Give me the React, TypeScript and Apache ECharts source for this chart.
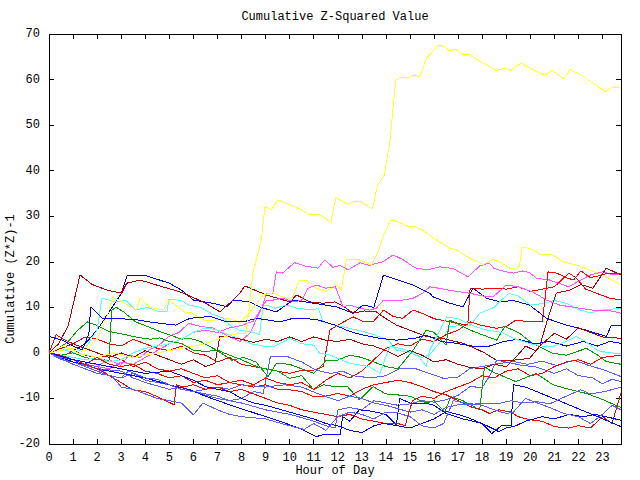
import React, { useEffect, useRef } from "react";
import * as echarts from "echarts";

const TITLE = "Cumulative Z-Squared Value";
const X_NAME = "Hour of Day";
const Y_NAME = "Cumulative (Z*Z)-1";
const X_MIN = 0;
const X_MAX = 23.77;
const Y_MIN = -20;
const Y_MAX = 70;

type Pt = [number, number];

const yellowBig: Pt[] = [[0,0],[0.6,1.5],[1.2,0],[2,-1],[2.7,0],[3.5,-1],[4.5,0],[5.5,1],[6.5,2],[7.1,3.2],[7.6,4],[8.2,4.4],[8.47,17.5],[8.83,25],[8.97,32.1],[9.25,31.4],[9.5,33.6],[10.42,31.6],[10.84,30.3],[11.25,30.3],[11.71,28.7],[11.92,34.1],[12.43,32.6],[12.71,33.3],[12.96,33.2],[13.44,31.6],[13.65,36.7],[13.93,39],[14.16,46],[14.41,59.9],[14.65,60.5],[14.92,60.3],[15.17,61],[15.41,60.6],[15.69,64.7],[16.2,67.6],[16.45,67.2],[16.65,66.3],[16.9,66.6],[17.2,65.5],[17.49,65.4],[18.04,63.6],[18.59,62],[18.94,62.5],[19.15,62],[19.63,63.6],[20.12,62.1],[20.6,61],[20.92,62],[21.4,60.1],[21.64,62.2],[21.98,61.4],[22.61,59.2],[23.13,57.3],[23.41,58.4],[23.77,58.1]];
const yellowMid: Pt[] = [[0,0],[1,1],[1.5,0.5],[2,3],[2.4,8],[2.67,12.3],[3.1,11],[3.64,9.4],[3.78,12],[4.2,10],[4.75,9.4],[4.96,11.6],[5.72,8.7],[5.86,9],[6.5,7],[7.5,7.5],[7.9,6.7],[8.2,8],[8.9,12.7],[9.3,13.2],[9.6,12.5],[10.08,11.6],[10.4,16],[10.7,16],[11.1,14.2],[11.5,13.5],[11.95,14.9],[12.15,13.8],[12.36,20.5],[12.85,20.5],[13.4,19.3],[13.68,22.2],[13.91,25.9],[14.2,29.2],[14.44,28.9],[14.92,27.8],[15.2,27.8],[15.55,26.8],[16.1,24.8],[16.65,23],[16.93,22.6],[17.48,20.8],[18.04,19.4],[18.45,20.5],[18.73,20],[19.15,18.6],[19.4,18.4],[19.55,19],[19.66,23.3],[20.05,22.8],[20.46,21.5],[20.88,21.7],[21.36,20],[21.91,19.3],[22.47,18.2],[23.02,17.1],[23.4,16],[23.77,15]];
const magentaHigh: Pt[] = [[0,0],[0.5,-1],[1,-1.5],[1.5,-2],[2.08,-2.7],[2.5,-1.5],[2.98,-2.7],[3.32,-0.5],[3.8,-1],[4.15,0.6],[4.57,1.7],[4.98,3.6],[5.4,4.5],[5.81,6.5],[6.3,5.8],[6.8,5.5],[7.38,3.9],[7.93,2.5],[8.35,4.3],[8.83,9.8],[9.04,13.1],[9.3,13],[9.45,17.8],[9.7,17.5],[10.2,19.8],[10.7,19],[11.18,18.6],[11.46,20.4],[11.8,18.8],[12.1,19.2],[12.43,18.2],[12.92,19.8],[13.3,19.2],[13.88,20],[14.3,21.5],[14.7,20.5],[15.2,18.7],[15.7,18.2],[16.24,18.9],[16.8,18.5],[17.41,16.7],[17.9,19.1],[18.3,19.7],[18.5,18.5],[19,17.8],[19.3,17.5],[19.7,18],[20,17.5],[20.25,16.4],[20.8,16],[21.6,14.5],[22.1,16],[22.5,17.1],[23,17.8],[23.4,17.2],[23.77,17.1]];
const magentaLow: Pt[] = [[0,0],[0.5,-0.5],[1,-1.5],[1.5,-2.5],[2,-3],[2.5,-3.5],[3,-2],[3.5,-2.5],[4,-1],[4.5,0.5],[5,2],[5.5,3],[6,4.5],[6.5,5],[7,4.5],[7.5,5.5],[8,6],[8.5,7],[9.04,11.6],[9.32,11.6],[9.7,12],[10.2,11.2],[10.5,11.6],[10.77,14.2],[11.12,14.9],[11.5,14.2],[11.9,14.5],[12.22,10.1],[12.5,10.5],[12.9,9.8],[13.33,9.4],[13.6,9.8],[13.9,11.6],[14.3,11.4],[14.7,11.6],[15.13,12],[15.5,13],[15.82,14.5],[16.2,14.2],[16.8,13.6],[17.49,13.1],[18.18,12.3],[18.5,12.5],[19,14.9],[19.5,14.5],[20.1,13.4],[20.67,11.6],[21.22,10.5],[21.8,10],[22.6,9.4],[23.2,9.4],[23.77,8.7]];
const cyanHigh: Pt[] = [[0,0],[0.5,1],[1,0],[1.5,1],[2,5],[2.2,12],[2.77,11.2],[3.2,11.5],[3.6,9.4],[4.1,10],[4.57,9],[4.9,9],[4.98,11.8],[5.5,11.5],[5.8,10.5],[6.3,10],[6.8,8.5],[7.3,7.5],[7.5,6.1],[7.9,5],[8.5,4.5],[8.75,4],[8.9,10.2],[9.04,10.5],[9.4,9.8],[9.87,10.5],[10.3,9.8],[10.98,9.4],[11.2,9.8],[11.39,6.8],[11.88,6.1],[12.4,5.5],[13.05,4.7],[13.5,4],[14.1,2.8],[14.44,0.6],[15,0],[15.5,-1],[15.8,-0.5],[16.2,2],[16.65,5.8],[17.2,6],[17.5,6],[17.9,8.7],[18.5,10],[19.1,13.1],[19.5,12.5],[20,10.5],[20.5,10.8],[21,11.5],[21.5,10.9],[22,9.5],[22.5,8.8],[23,9.4],[23.77,9.8]];
const cyanLow: Pt[] = [[0,0],[0.5,-0.5],[1,-1],[1.5,-1.5],[2,-1],[2.5,-2],[3,-1.5],[3.5,0],[4,1],[4.5,1.5],[5,2],[5.5,3],[6,4.5],[6.5,5.5],[7,5],[7.5,3.9],[8,3],[8.4,2],[8.9,1.5],[9.4,1.5],[10,3.2],[10.5,2],[11,1.7],[11.25,-0.1],[11.7,-0.5],[12.5,-2.3],[13.3,-3],[13.75,-4.5],[14.16,1.4],[14.6,1],[15.27,-0.1],[15.68,-3],[15.82,0.6],[16.24,5],[16.52,7.9],[17,7.5],[17.7,5.8],[18.2,5],[18.8,4.5],[19.3,3.2],[20,2],[20.5,1.5],[21,1.5],[21.5,2.5],[21.9,3.6],[22.3,2.5],[22.8,0.5],[23.3,0],[23.77,-0.1]];
const greenLow: Pt[] = [[0,0],[0.4,1],[0.8,2.5],[1.2,5],[1.6,6.8],[2,6],[2.5,4.7],[3,4.2],[3.6,3.5],[4.2,3],[4.6,3.3],[5,2.5],[5.5,2.1],[6,0.6],[6.5,0.3],[7,0.6],[7.5,-0.5],[8,-1.5],[8.63,-3],[9,-3.5],[9.5,-4],[10,-5.6],[10.5,-5],[11,-8.1],[11.4,-7],[11.9,-7.4],[12.4,-7.4],[12.9,-10.3],[13.47,-7.4],[14,-9],[14.44,-9.2],[15,-9.5],[15.68,-11],[16,-10.5],[16.45,-12.9],[16.7,-9.6],[17.2,-10.5],[17.9,-12.5],[18.1,-3],[18.4,-4.1],[19.4,-6.3],[20.25,-4.5],[20.94,-7],[21.6,-8],[22.33,-8.9],[22.9,-10],[23.77,-12]];
const greenHigh: Pt[] = [[0,0],[0.5,-0.5],[1,0],[1.5,-1],[2,-1.5],[2.5,-1.6],[2.6,9.4],[2.8,10],[3.1,9],[3.6,6.8],[4,6],[4.6,4.7],[5,4],[5.5,3],[5.86,3.2],[6.3,2.5],[6.96,0.6],[7.6,-1.6],[8.1,-1],[8.6,-2],[9.1,-5.2],[9.45,-2.3],[10,-2.5],[10.5,-3.5],[11,-4.5],[11.53,-1.6],[12,-1.6],[12.5,-0.5],[13,-1],[13.5,-2],[14,-3],[14.5,-3.5],[15.13,0.6],[15.68,5],[16,4.5],[16.5,1.7],[16.65,7.2],[17.5,5],[18.6,2.8],[18.94,5.8],[19.5,4.5],[20.1,2.1],[20.94,-0.1],[21.5,-0.5],[22.33,1],[22.8,-0.5],[23.16,-1.9],[23.77,-2.5]];
const blueHigh: Pt[] = [[0,0],[0.5,-1],[1,0.5],[1.5,2],[2,5],[2.5,9],[3,13],[3.25,17],[4,17],[5,15.3],[5.5,13.8],[6,11.6],[6.8,10.9],[7.4,10.1],[7.65,11.6],[8.35,11.2],[8.8,10],[9.45,9],[10.15,11.6],[11,10.9],[11.95,10.1],[12.64,8.7],[13.05,10.5],[13.5,10],[13.9,17.1],[14.5,16],[15.13,14.9],[15.82,13.1],[15.96,12.3],[16.6,11],[17.2,10.1],[17.62,14.2],[18.18,12],[18.73,11.2],[19.3,11.5],[19.97,10.5],[20.67,7.6],[21.5,6.1],[22.33,5],[23.16,3.6],[23.37,6.1],[23.77,6.1]];
const blueMid: Pt[] = [[0,3.6],[0.55,2.8],[1,1.5],[1.38,0.6],[1.66,4.3],[1.73,10.1],[2.21,7.6],[2.77,7.6],[3.74,7.2],[4.15,6.8],[5.26,6.1],[5.86,7.6],[6.69,8],[7.38,6.8],[8.07,6.8],[8.63,7.6],[9.59,6.8],[10.15,7.6],[10.6,7.6],[11.2,7.2],[11.88,6.1],[12.5,4.7],[13.05,3.9],[13.75,3.2],[14.44,2.8],[15.2,3.2],[15.68,3.9],[16.3,2.5],[16.93,2.1],[17.7,1.4],[18.3,1.5],[18.9,2.5],[19.5,3],[20.2,2],[20.8,2.5],[21.5,1.5],[22.2,2.5],[22.8,1.5],[23.3,2.5],[23.77,2.1]];
const blueLow: Pt[] = [[0,0],[0.5,-1],[1,-2],[1.5,-2.5],[2,-3.5],[3,-4.5],[4,-5.5],[5,-7],[5.86,-8.1],[6.5,-9.5],[7.5,-11.4],[8.6,-13.3],[9.3,-14.5],[10.4,-16.5],[11.1,-18.4],[11.5,-17.8],[12.1,-18],[12.2,-14],[12.5,-15],[12.9,-12.5],[13.4,-12.8],[14,-13.5],[14.44,-15.8],[14.57,-10],[15,-11],[15.6,-11],[16,-11.5],[16.5,-13.3],[17.2,-14.5],[17.7,-15.1],[18,-15.5],[18.4,-17.7],[18.8,-16],[19.2,-16],[19.3,-7],[19.8,-7.5],[20.5,-9],[21.1,-10.3],[22.1,-12.5],[22.8,-14],[23.77,-16.2]];
const blueLow2: Pt[] = [[0,0],[1,-1.5],[2,-2.5],[3,-3.5],[4,-4.5],[5,-4],[5.5,-5],[6,-6],[6.5,-7.4],[7,-8],[7.5,-8.5],[8,-10],[8.5,-11],[9,-11.5],[10,-13],[11,-14.5],[11.5,-15.5],[12,-16],[12.5,-17],[13,-17.5],[13.5,-16],[13.9,-15.5],[14.5,-16],[15,-16.5],[15.5,-15.5],[16,-14.5],[16.5,-12.9],[17,-13.5],[17.5,-14.4],[18.2,-16],[18.7,-17.3],[19,-16.5],[19.4,-16],[19.8,-15],[20.5,-14],[21,-14.5],[21.6,-13.5],[22.2,-14],[22.7,-13.5],[23.3,-14.2],[23.77,-14.8]];
const lightBlueA: Pt[] = [[0,0],[0.5,-1.5],[1,-2],[1.5,-3],[2,-4],[2.5,-5],[3,-5.5],[3.5,-4.5],[4,-6],[4.5,-6.5],[5,-7],[5.5,-8],[6,-8.5],[6.5,-9],[7,-9.5],[7.5,-10.5],[8,-10],[8.5,-8.5],[8.9,-8.9],[9.2,-0.8],[9.9,-0.8],[10.5,-2],[11.1,-3.8],[11.7,-4.5],[12.2,-4],[12.6,-5],[13.4,-5.5],[14,-5],[14.6,-3.4],[15.2,-3.4],[15.8,-4.5],[16.4,-5.6],[17,-5.3],[17.5,-3.4],[18,-3],[18.5,-2.5],[19.3,-1.9],[19.9,-2.5],[20.5,-1.8],[21.1,-2.8],[21.8,-1.6],[22.4,-2.7],[23.1,-3.8],[23.77,-5.2]];
const lightBlueB: Pt[] = [[0,0],[1,-2],[2,-3.5],[3,-4],[3.5,-5.5],[4,-6.5],[5,-8],[5.5,-7.5],[6,-8.5],[7,-10],[8,-11],[9,-12.5],[9.5,-13],[10,-13.5],[10.5,-14.2],[11,-15],[11.5,-16],[11.9,-16.5],[12,-12.5],[12.5,-12],[13,-12.5],[13.5,-10.5],[14,-11],[14.5,-11.5],[15,-11.2],[15.5,-10.5],[16,-10.8],[16.5,-10.3],[17,-9.3],[17.5,-7.4],[18,-7.6],[18.3,-5.2],[18.6,-1.6],[19,-2],[19.7,-2.8],[20.2,-3],[21,-4.5],[21.5,-3.5],[22,-5],[22.6,-5.5],[23,-6.8],[23.4,-5.8],[23.77,-6.3]];
const lightBlueC: Pt[] = [[0,0],[0.5,-1],[1,-1.5],[1.5,-2.5],[2,-3],[2.5,-5],[3,-5.5],[3.3,-4],[4,-5.5],[4.5,-5.8],[5,-7],[5.5,-8],[6,-8.5],[6.5,-8],[7,-7.5],[7.5,-8],[8,-7],[9,-7.5],[9.8,-7],[10.5,-7.5],[11.2,-9],[12,-10.5],[12.5,-9.5],[13,-10],[13.5,-11],[14,-11.5],[15,-13],[15.5,-12.5],[16,-13.5],[16.5,-12],[17,-11.4],[17.5,-11.4],[18,-11],[18.6,-11.2],[19.2,-10.5],[19.7,-11],[20.3,-10.7],[20.8,-11.2],[21.5,-9.5],[22.1,-8.1],[22.5,-9],[23.1,-8.5],[23.77,-7.5]];
const lightBlueD: Pt[] = [[0,0],[1,-2.5],[2,-4.5],[2.6,-5],[3,-7.5],[3.5,-8],[4,-9],[4.5,-10],[5.5,-11],[6,-13.6],[6.4,-11],[7,-12.5],[7.5,-13.5],[8,-14],[9,-14.5],[10,-16],[10.6,-16.8],[11,-15.5],[11.5,-17],[12,-14],[12.5,-13],[13,-13.5],[13.5,-14.5],[14,-13],[14.5,-13.2],[15,-14],[15.5,-16],[16,-16.5],[16.4,-15.5],[16.8,-10.5],[17.3,-11],[18,-11.5],[18.5,-12.5],[19,-13.3],[19.3,-13],[19.8,-10],[20.3,-11],[20.8,-12],[21.4,-13.3],[22,-14],[22.5,-15.5],[23,-13.5],[23.4,-11.5],[23.77,-12.5]];
const darkRedA: Pt[] = [[0,0],[0.4,2],[0.8,6],[1.29,17.1],[1.8,15],[2.4,13.8],[3.02,13.1],[3.23,15.3],[3.78,16],[4.47,14.9],[5.44,13.4],[6.41,11.2],[7.1,9],[7.65,11.6],[7.93,13.1],[8.14,14.7],[9.04,12.7],[9.5,12],[10,11.2],[10.29,12.7],[10.84,11.2],[11.39,10.9],[11.88,11.2],[12.3,10],[12.64,8.7],[13.1,9.2],[13.6,9],[14,7.5],[14.44,6.1],[15.13,4.7],[15.68,3.6],[16.5,3],[17.2,2.1],[17.7,1],[18.1,0],[18.59,-1.6],[19.3,-1.6],[19.97,-1.2],[20.39,1.4],[20.67,6.5],[20.94,10.9],[21.08,13.1],[21.64,13.8],[22.1,15],[22.6,14.2],[23.16,18.6],[23.77,17.1]];
const darkRedB: Pt[] = [[0,0],[0.5,1],[1,2],[1.5,1],[2,0],[2.5,-1],[3,0],[3.5,-1],[4,0.5],[4.5,-0.5],[5,-1.5],[5.5,-2.5],[6,-1.5],[6.5,-3],[6.9,-2.3],[7.1,3.6],[7.5,3.5],[8,3],[8.5,2.3],[9,3],[9.5,2.5],[10,3.5],[10.5,2.5],[11,3.5],[11.5,2.8],[12,2.5],[12.5,3],[13,2],[13.5,1.5],[14,0.5],[14.5,-0.8],[15,0.5],[15.5,-0.5],[16,-2],[16.5,-1.5],[17,-2.5],[17.5,-3.2],[18,-3.5],[18.5,-2.5],[19,-3],[19.4,-1],[19.8,1.5],[20.2,0.5],[20.5,2],[21,4.3],[21.5,3],[22,5.5],[22.5,4.5],[23,3.5],[23.77,3.2]];
const redA: Pt[] = [[0,0],[0.3,4],[0.6,3],[1,2],[1.5,3.5],[2,3],[2.5,2],[3,1.5],[3.5,3],[4,2],[4.5,1],[5,0.5],[5.5,1.5],[6,0],[6.5,-0.5],[7,-2],[7.5,-1],[8,-2.5],[8.5,-3],[9,-3.5],[9.5,-4],[10,-4.5],[10.5,-3.8],[11,-3.8],[11.4,-3],[11.67,5],[12,6.1],[12.64,7.9],[13,7],[13.5,7],[13.9,9.4],[14.3,8],[14.7,7.6],[15.13,9.4],[15.6,8.5],[16,7.5],[16.5,7],[17,6.5],[17.4,6],[17.5,14.2],[18,14],[18.5,14.2],[19,14],[19.5,14.5],[20,13.5],[20.5,14],[21,14.5],[21.6,17.5],[21.9,16.5],[22.3,14],[22.8,13],[23.3,12],[23.77,11.6]];
const redB: Pt[] = [[0,0],[0.5,-1],[1,0.5],[1.5,-0.5],[2,-1],[2.5,-0.5],[3,-1.5],[3.5,-3],[4,-2],[4.5,-3.5],[5,-4],[5.5,-3.5],[6,-4.5],[6.5,-5.5],[7,-5],[7.5,-6.5],[8,-6],[8.5,-7],[9,-5.5],[9.5,-6.5],[10,-7],[10.5,-6.5],[11,-8],[11.5,-6],[12,-4.5],[12.5,-5.5],[13,-4],[13.5,-1.5],[14,1],[14.5,2],[15,1.5],[15.5,3],[16,2.5],[16.5,4],[17,5],[17.5,6.8],[18,6],[18.6,5.4],[19,5.8],[19.4,7.2],[20,6.8],[20.5,6.8],[20.74,17.8],[21.1,17.5],[21.5,16.5],[21.8,16],[22.1,18],[22.5,16.5],[22.9,17],[23.2,17.5],[23.77,17.5]];
const redC: Pt[] = [[0,0],[0.5,-1],[1,-1.5],[1.5,-2.5],[2,-1],[2.5,-2.5],[3,-3],[3.5,-2.5],[4,-4],[4.5,-4.5],[5,-5.5],[5.5,-5],[6,-6.5],[6.5,-6],[7,-7],[7.5,-6.5],[8,-7],[8.5,-7.5],[9,-7],[9.5,-8],[10,-8.1],[10.5,-8.5],[11,-9.6],[11.4,-9.6],[12,-8.9],[12.5,-9.5],[13,-8],[13.5,-7],[14,-6.5],[14.5,-6],[15,-6.5],[15.5,-7.4],[16,-8.5],[16.5,-9.2],[17,-10.5],[17.5,-11.8],[18,-12.5],[18.3,-13.3],[18.7,-12.5],[19.2,-13],[19.5,-14],[20,-14.7],[20.5,-15],[21,-16.2],[21.6,-16.5],[22,-16],[22.5,-16.5],[23,-14],[23.4,-15.5],[23.6,-11.8],[23.77,-8.8]];
const redD: Pt[] = [[0,0],[0.5,-0.5],[1,-1.5],[1.5,-2.5],[2,-3.5],[2.5,-5],[3,-6.5],[3.46,-8.1],[4,-8.5],[4.5,-9.6],[5.2,-11.4],[5.3,-7],[5.6,-7.5],[6,-7],[6.5,-8],[7,-7.5],[7.5,-8.5],[8,-8],[8.5,-9],[9,-10],[9.5,-11],[10,-11.5],[10.5,-12.5],[11,-13],[11.5,-13.5],[12,-14],[12.5,-13.5],[13,-14.5],[13.5,-15],[14,-15.5],[14.5,-15.5],[14.8,-16],[15.1,-10.5],[15.5,-9.5],[16,-10],[16.5,-8.5],[17,-7.5],[17.5,-6.5],[18,-5],[18.5,-5.5],[19,-4],[19.5,-3.5],[20,-5],[20.5,-4.5],[21,-3],[21.5,-2],[22,-1.5],[22.5,-2.5],[23,-1],[23.77,-0.5]];

const SERIES: { name: string; color: string; data: Pt[] }[] = [
  { name: "red A", color: "#ff0000", data: redA },
  { name: "green low", color: "#00a000", data: greenLow },
  { name: "blue high", color: "#0000ff", data: blueHigh },
  { name: "magenta high", color: "#ff55ff", data: magentaHigh },
  { name: "cyan high", color: "#55ffff", data: cyanHigh },
  { name: "dark red A", color: "#b00000", data: darkRedA },
  { name: "yellow mid", color: "#ffff33", data: yellowMid },
  { name: "light blue A", color: "#5c5cff", data: lightBlueA },
  { name: "red B", color: "#ff0000", data: redB },
  { name: "green high", color: "#00a000", data: greenHigh },
  { name: "blue mid", color: "#0000ff", data: blueMid },
  { name: "magenta low", color: "#ff55ff", data: magentaLow },
  { name: "cyan low", color: "#55ffff", data: cyanLow },
  { name: "dark red B", color: "#b00000", data: darkRedB },
  { name: "yellow big", color: "#ffff33", data: yellowBig },
  { name: "light blue B", color: "#5c5cff", data: lightBlueB },
  { name: "red C", color: "#ff0000", data: redC },
  { name: "blue low", color: "#0000ff", data: blueLow },
  { name: "light blue C", color: "#5c5cff", data: lightBlueC },
  { name: "red D", color: "#ff0000", data: redD },
  { name: "blue low 2", color: "#0000ff", data: blueLow2 },
  { name: "light blue D", color: "#5c5cff", data: lightBlueD },
];

const FONT = "'Liberation Mono', 'DejaVu Sans Mono', monospace";

export default function App() {
  const ref = useRef<HTMLDivElement>(null);
  useEffect(() => {
    if (!ref.current) return;
    const chart = echarts.init(ref.current, null, { renderer: "svg" });
    const tickStyle = { inside: true, length: 5, lineStyle: { color: "#000", width: 1 } };
    const lineStyle = { onZero: false, lineStyle: { color: "#000", width: 1 } };
    const xLabel = (v: number) => (Number.isInteger(v) ? String(v) : "");
    chart.setOption({
      animation: false,
      backgroundColor: "#fff",
      grid: { left: 49, right: 19, top: 34, bottom: 36, show: true, borderColor: "#000", borderWidth: 1 },
      xAxis: [
        {
          type: "value", min: X_MIN, max: X_MAX, interval: 1, position: "bottom",
          axisLine: { show: true, ...lineStyle }, axisTick: tickStyle, splitLine: { show: false },
          axisLabel: { formatter: xLabel, color: "#000", fontFamily: FONT, fontSize: 12, margin: 8, showMaxLabel: false },
        },
        {
          type: "value", min: X_MIN, max: X_MAX, interval: 1, position: "top",
          axisLine: { show: true, ...lineStyle }, axisTick: tickStyle, splitLine: { show: false },
          axisLabel: { show: false },
        },
      ],
      yAxis: [
        {
          type: "value", min: Y_MIN, max: Y_MAX, interval: 10, position: "left",
          axisLine: { show: true, ...lineStyle }, axisTick: tickStyle, splitLine: { show: false },
          axisLabel: { color: "#000", fontFamily: FONT, fontSize: 12, margin: 9 },
        },
        {
          type: "value", min: Y_MIN, max: Y_MAX, interval: 10, position: "right",
          axisLine: { show: true, ...lineStyle }, axisTick: tickStyle, splitLine: { show: false },
          axisLabel: { show: false },
        },
      ],
      graphic: [
        { type: "text", x: 335, y: 17, style: { text: TITLE, fill: "#000", font: `12px ${FONT}`, align: "center", verticalAlign: "middle" } },
        { type: "text", x: 335, y: 471, style: { text: X_NAME, fill: "#000", font: `12px ${FONT}`, align: "center", verticalAlign: "middle" } },
        { type: "text", x: 11, y: 279, rotation: Math.PI / 2, style: { text: Y_NAME, fill: "#000", font: `12px ${FONT}`, align: "center", verticalAlign: "middle" } },
      ],
      series: SERIES.map((s) => ({
        name: s.name, type: "line", data: s.data, showSymbol: false, symbol: "none",
        lineStyle: { color: s.color, width: 1 }, itemStyle: { color: s.color },
        emphasis: { disabled: true }, silent: true,
      })),
    });
    return () => chart.dispose();
  }, []);
  return (
    <>
      <style>{"#root svg path { shape-rendering: crispEdges; }"}</style>
      <div ref={ref} style={{ position: "absolute", left: 0, top: 0, width: 640, height: 480 }} />
    </>
  );
}
